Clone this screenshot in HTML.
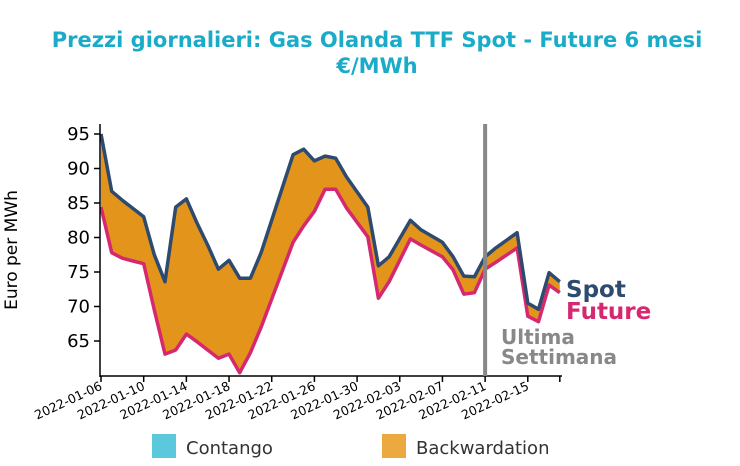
<!DOCTYPE html>
<html><head><meta charset="utf-8"><style>
body{margin:0;background:#fff;}
svg text{font-family:"DejaVu Sans","Liberation Sans",sans-serif;}
</style></head><body>
<svg width="740" height="461" xmlns="http://www.w3.org/2000/svg">
<text x="377" y="47" text-anchor="middle" font-size="21" font-weight="bold" fill="#1aabc9">Prezzi giornalieri: Gas Olanda TTF Spot - Future 6 mesi</text>
<text x="377" y="73" text-anchor="middle" font-size="21" font-weight="bold" fill="#1aabc9">€/MWh</text>
<text transform="translate(17,250) rotate(-90)" text-anchor="middle" font-size="17" fill="#000">Euro per MWh</text>
<g id="plot"></g>
<rect x="152" y="434" width="24" height="24" fill="#5bc8dc"/>
<text x="186" y="454" font-size="18" fill="#333">Contango</text>
<rect x="382" y="434" width="24" height="24" fill="#eba940"/>
<text x="416" y="454" font-size="18" fill="#333">Backwardation</text>
</svg>
<script>
const dates=["2022-01-06","2022-01-07","2022-01-08","2022-01-09","2022-01-10","2022-01-11","2022-01-12","2022-01-13","2022-01-14","2022-01-15","2022-01-16","2022-01-17","2022-01-18","2022-01-19","2022-01-20","2022-01-21","2022-01-24","2022-01-25","2022-01-26","2022-01-27","2022-01-28","2022-01-29","2022-01-31","2022-02-01","2022-02-02","2022-02-04","2022-02-05","2022-02-07","2022-02-08","2022-02-09","2022-02-10","2022-02-11","2022-02-12","2022-02-14","2022-02-15","2022-02-16","2022-02-17","2022-02-18"];
const spot=[95,86.7,85.4,84.2,83.0,77.5,73.6,84.4,85.6,82.1,78.9,75.4,76.7,74.1,74.1,77.8,92.0,92.8,91.1,91.8,91.5,88.8,84.4,75.9,77.2,82.5,81.1,79.3,77.2,74.4,74.3,77.2,78.5,80.7,70.5,69.6,74.9,73.6];
const future=[84.4,77.8,77.0,76.6,76.2,69.5,63.1,63.7,66.0,64.9,63.7,62.5,63.1,60.4,63.3,67.0,79.3,81.7,83.8,87.0,87.0,84.3,80.1,71.2,73.6,79.8,78.9,77.2,75.3,71.8,72.0,75.4,76.4,78.5,68.6,67.8,73.1,72.0];
const yTicks=[65,70,75,80,85,90,95];
const xTickLabels=["2022-01-06","2022-01-10","2022-01-14","2022-01-18","2022-01-22","2022-01-26","2022-01-30","2022-02-03","2022-02-07","2022-02-11","2022-02-15"];
const lastWeek="2022-02-11";
const NS="http://www.w3.org/2000/svg";
const t0=Date.UTC(2022,0,6);
function day(s){const[a,b,c]=s.split("-").map(Number);return (Date.UTC(a,b-1,c)-t0)/864e5;}
const X=s=>101+day(s)*10.67;
const Y=v=>134+(95-v)*6.9;
const g=document.getElementById("plot");
function mk(tag,attrs){const e=document.createElementNS(NS,tag);for(const k in attrs)e.setAttribute(k,attrs[k]);g.appendChild(e);return e;}
const sp=dates.map((d,i)=>X(d).toFixed(1)+","+Y(spot[i]).toFixed(1));
const fp=dates.map((d,i)=>X(d).toFixed(1)+","+Y(future[i]).toFixed(1));
let area=mk("polygon",{points:sp.concat(fp.slice().reverse()).join(" "),fill:"#e3951b"});


let fl=mk("polyline",{points:fp.join(" "),fill:"none",stroke:"#d6286e","stroke-width":3.5,"stroke-linejoin":"round"});


let sl=mk("polyline",{points:sp.join(" "),fill:"none",stroke:"#2e4a6e","stroke-width":3.5,"stroke-linejoin":"round"});


let ya=mk("line",{x1:100,y1:124,x2:100,y2:377,stroke:"#000","stroke-width":1.5});


let xa=mk("line",{x1:100,y1:376,x2:562,y2:376,stroke:"#000","stroke-width":1.5});


yTicks.forEach(v=>{
 let tk=mk("line",{x1:94,x2:100,y1:Y(v),y2:Y(v),stroke:"#000","stroke-width":1.5});
 
 
 let t=mk("text",{x:90,y:Y(v)+6,"text-anchor":"end","font-size":18,fill:"#000"});
 t.textContent=v;
 
 
});
xTickLabels.concat(["2022-02-18"]).forEach((s,i)=>{
 let tk=mk("line",{x1:X(s),x2:X(s),y1:376,y2:382,stroke:"#000","stroke-width":1.5});
 
 
 if(i<xTickLabels.length){
 let t=mk("text",{transform:`translate(${X(s)+2},389) rotate(-25)`,"text-anchor":"end","font-size":12.5,fill:"#000"});
 t.textContent=s;
 
 }
});
let vl=mk("line",{x1:X(lastWeek),x2:X(lastWeek),y1:124,y2:376,stroke:"#888","stroke-width":4});


function lab(txt,x,y,col,size,name){let t=mk("text",{x:x,y:y,"font-size":size,"font-weight":"bold",fill:col});t.textContent=txt;}
lab("Spot",566,297,"#2e4a6e",23,"spot-label");
lab("Future",566,319,"#d6286e",23,"future-label");
lab("Ultima",501,344,"#888",20,"last-week-label-1");
lab("Settimana",501,364,"#888",20,"last-week-label-2");
</script>
</body></html>
